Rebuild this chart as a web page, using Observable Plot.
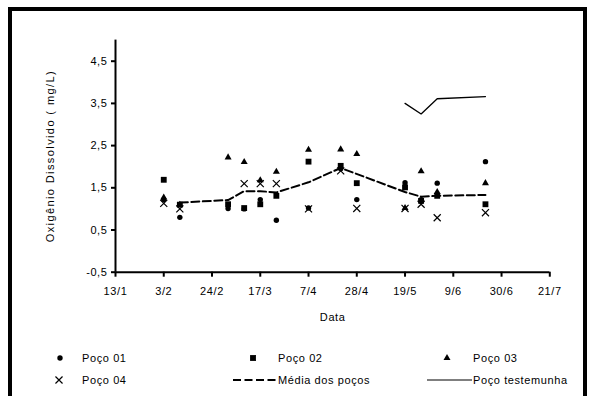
<!DOCTYPE html>
<html><head><meta charset="utf-8">
<script src="https://cdn.jsdelivr.net/npm/d3@7"></script>
<script src="https://cdn.jsdelivr.net/npm/@observablehq/plot@0.6"></script>
<style>
html,body{margin:0;padding:0;background:#fff;}
#wrap{position:relative;width:591px;height:396px;overflow:hidden;font-family:"Liberation Sans",Arial,sans-serif;}
#chart{position:absolute;left:0;top:0;}
#border{position:absolute;left:8px;top:7px;width:571px;height:400px;border:4px solid #000;}
#legend{position:absolute;left:0;top:0;}
</style></head>
<body><div id="wrap"><div id="chart"></div><svg id="legend" width="591" height="396"></svg><div id="border"></div></div>
<script>
// ---- data ----
const sampleDates = ["3/2","10/2","3/3","10/3","17/3","24/3","7/4","21/4","28/4","19/5","26/5","2/6","23/6"];
const poco01 = [1.22,0.80,1.01,1.00,1.22,0.73,1.02,1.95,1.22,1.62,1.22,1.61,2.12];
const poco02 = [1.69,1.10,1.11,1.02,1.11,1.31,2.12,2.02,1.61,1.51,1.19,1.31,1.11];
const poco03 = [1.27,1.10,2.22,2.11,1.68,1.88,2.40,2.41,2.30,1.02,1.89,1.40,1.61];
const poco04 = [1.13,1.00,null,1.60,1.60,1.60,1.00,1.90,1.01,1.01,1.11,0.79,0.91];
const meanDates = ["10/2","3/3","10/3","17/3","24/3","7/4","21/4","19/5","26/5","2/6","23/6"];
const meanValues = [1.15,1.21,1.42,1.42,1.39,1.63,1.97,1.40,1.29,1.31,1.33];
const testDates = ["19/5","26/5","2/6","23/6"];
const testValues = [3.50,3.25,3.61,3.66];
const xTickLabels = ["13/1","3/2","24/2","17/3","7/4","28/4","19/5","9/6","30/6","21/7"];
const yTicks = [-0.5,0.5,1.5,2.5,3.5,4.5];
const legendLabels = ["Poço 01","Poço 02","Poço 03","Poço 04","Média dos poços","Poço testemunha"];
const xLabel = "Data";
const yLabel = "Oxigênio Dissolvido ( mg/L)";

// ---- helpers ----
const parse = s => { const [d,m] = s.split("/").map(Number); return new Date(Date.UTC(2001, m-1, d)); };
const fmtDate = d => `${d.getUTCDate()}/${d.getUTCMonth()+1}`;
const fmtNum = v => v.toFixed(1).replace(".", ",");
const rows = (dates, vals) => dates.map((d,i) => ({date: parse(d), v: vals[i]})).filter(r => r.v != null);
const xTicks = xTickLabels.map(parse);
const yDomain = [-0.5, 5.0];

const R = {circle: 2.7, square: 3.3, triangle: 2.6, times: 3.3};
const font = '"Liberation Sans", Arial, sans-serif';

const plot = Plot.plot({
  width: 591, height: 396,
  marginLeft: 115, marginRight: 41.7, marginTop: 39.6, marginBottom: 124.3,
  style: {fontFamily: font, fontSize: "11px", color: "#000", background: "transparent", letterSpacing: "0.6px"},
  x: {type: "utc", domain: [xTicks[0], xTicks[xTicks.length-1]]},
  y: {domain: yDomain},
  marks: [
    Plot.axisX({ticks: xTicks, tickFormat: fmtDate, tickSize: 5, tickPadding: 10, strokeWidth: 2, label: null, fill: "#000"}),
    Plot.axisY({ticks: yTicks, tickFormat: fmtNum, tickSize: 4, tickPadding: 4, strokeWidth: 2, label: null, fill: "#000"}),
    Plot.ruleX([xTicks[0]], {strokeWidth: 2, stroke: "#000"}),
    Plot.ruleY([yDomain[0]], {strokeWidth: 2, stroke: "#000"}),
    Plot.text([xLabel], {text: d => d, frameAnchor: "bottom", dy: 49, fill: "#000"}),
    Plot.text([yLabel], {text: d => d, x: () => xTicks[0], y: () => (yDomain[0] + yDomain[1]) / 2, dx: -65, rotate: -90, fill: "#000"}),
    Plot.line(rows(meanDates, meanValues), {x: "date", y: "v", stroke: "#000", strokeWidth: 2, strokeDasharray: "8,3.5"}),
    Plot.line(rows(testDates, testValues), {x: "date", y: "v", stroke: "#000", strokeWidth: 1.3}),
    Plot.dot(rows(sampleDates, poco01), {x: "date", y: "v", symbol: "circle", r: R.circle, fill: "#000"}),
    Plot.dot(rows(sampleDates, poco02), {x: "date", y: "v", symbol: "square", r: R.square, fill: "#000"}),
    Plot.dot(rows(sampleDates, poco03), {x: "date", y: "v", symbol: "triangle", r: R.triangle, fill: "#000"}),
    Plot.dot(rows(sampleDates, poco04), {x: "date", y: "v", symbol: "times", r: R.times, stroke: "#000", strokeWidth: 1.2, fill: "none"})
  ]
});
document.getElementById("chart").appendChild(plot);
plot.querySelectorAll("text").forEach(t => { if (t.textContent === yLabel) t.style.letterSpacing = "1.4px"; });

// ---- legend ----
const lg = d3.select("#legend");
const row1 = 358, row2 = 380;
const symType = {circle: d3.symbolCircle, square: d3.symbolSquare, triangle: d3.symbolTriangle, times: d3.symbolTimes};
const items = [
  {kind: "circle", sx: 60, tx: 82, y: row1},
  {kind: "square", sx: 253, tx: 278, y: row1},
  {kind: "triangle", sx: 447, tx: 473, y: row1},
  {kind: "times", sx: 59, tx: 82, y: row2},
  {kind: "dash", sx: 233, ex: 277, tx: 278, y: row2},
  {kind: "solid", sx: 427, ex: 472, tx: 473, y: row2}
];
// reuse the plot's own symbol shapes so the legend matches them
const plotPath = kind => {
  const groups = plot.querySelectorAll('g[aria-label="dot"]');
  const idx = {circle: 0, square: 1, triangle: 2, times: 3}[kind];
  const g = groups[idx];
  return g && g.querySelector("path, circle");
};
items.forEach((it, i) => {
  if (it.kind === "dash" || it.kind === "solid") {
    lg.append("line").attr("x1", it.sx).attr("x2", it.ex).attr("y1", it.y).attr("y2", it.y)
      .attr("stroke", "#000").attr("stroke-width", it.kind === "dash" ? 2 : 1.2)
      .attr("stroke-dasharray", it.kind === "dash" ? "8,3.5" : null);
  } else {
    const src = plotPath(it.kind);
    let p;
    if (src && src.tagName === "path" && src.getAttribute("d")) {
      p = lg.append("path").attr("d", src.getAttribute("d"));
    } else if (src && src.tagName === "circle") {
      p = lg.append("circle").attr("r", src.getAttribute("r"));
    } else {
      const r = R[it.kind];
      p = lg.append("path").attr("d", d3.symbol(symType[it.kind], r*r*Math.PI)());
    }
    p.attr("transform", `translate(${it.sx},${it.y})`);
    if (it.kind === "times") p.attr("fill", "none").attr("stroke", "#000").attr("stroke-width", 1.2);
    else p.attr("fill", "#000");
  }
  lg.append("text").attr("x", it.tx).attr("y", it.y).attr("dy", "0.35em")
    .attr("font-family", font).attr("font-size", 11).attr("letter-spacing", "0.6px").attr("fill", "#000")
    .text(legendLabels[i]);
});
</script></body></html>
